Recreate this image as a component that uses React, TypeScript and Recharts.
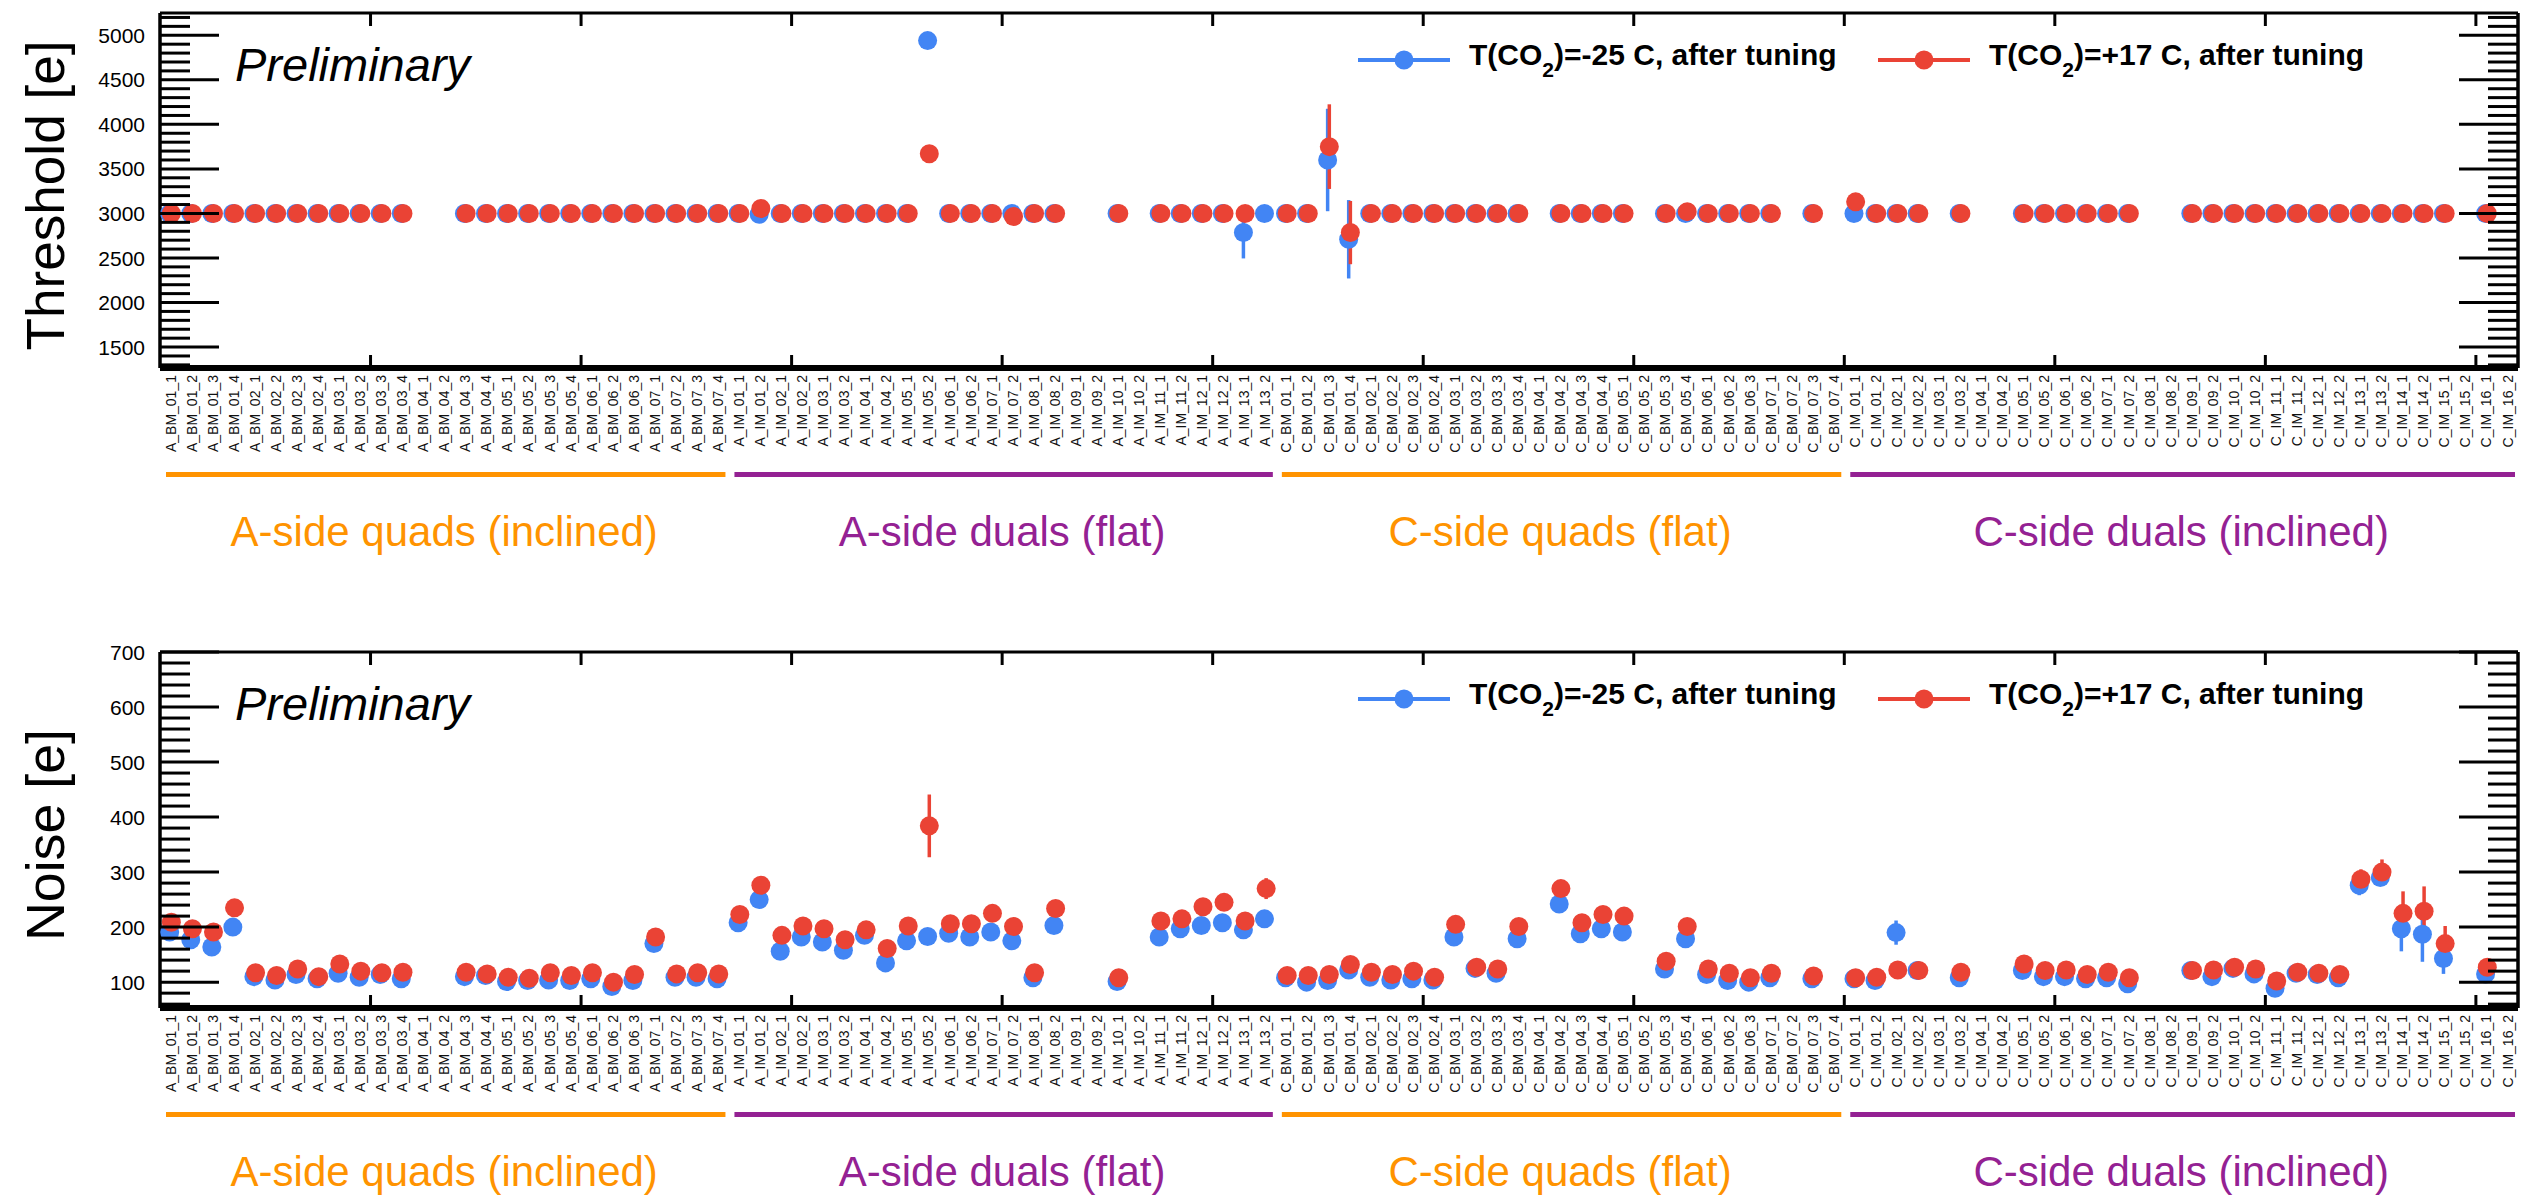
import React from "react";
import { ScatterChart, Scatter, XAxis, YAxis, ErrorBar } from "recharts";

// module names, one list per detector group
const aQuads = [
  "A_BM_01_1", "A_BM_01_2", "A_BM_01_3", "A_BM_01_4", "A_BM_02_1", "A_BM_02_2", "A_BM_02_3", "A_BM_02_4",
  "A_BM_03_1", "A_BM_03_2", "A_BM_03_3", "A_BM_03_4", "A_BM_04_1", "A_BM_04_2", "A_BM_04_3", "A_BM_04_4",
  "A_BM_05_1", "A_BM_05_2", "A_BM_05_3", "A_BM_05_4", "A_BM_06_1", "A_BM_06_2", "A_BM_06_3",
  "A_BM_07_1", "A_BM_07_2", "A_BM_07_3", "A_BM_07_4",
];
const aDuals = [
  "A_IM_01_1", "A_IM_01_2", "A_IM_02_1", "A_IM_02_2", "A_IM_03_1", "A_IM_03_2", "A_IM_04_1", "A_IM_04_2",
  "A_IM_05_1", "A_IM_05_2", "A_IM_06_1", "A_IM_06_2", "A_IM_07_1", "A_IM_07_2", "A_IM_08_1", "A_IM_08_2",
  "A_IM_09_1", "A_IM_09_2", "A_IM_10_1", "A_IM_10_2", "A_IM_11_1", "A_IM_11_2", "A_IM_12_1", "A_IM_12_2",
  "A_IM_13_1", "A_IM_13_2",
];
const cQuads = [
  "C_BM_01_1", "C_BM_01_2", "C_BM_01_3", "C_BM_01_4", "C_BM_02_1", "C_BM_02_2", "C_BM_02_3", "C_BM_02_4",
  "C_BM_03_1", "C_BM_03_2", "C_BM_03_3", "C_BM_03_4", "C_BM_04_1", "C_BM_04_2", "C_BM_04_3", "C_BM_04_4",
  "C_BM_05_1", "C_BM_05_2", "C_BM_05_3", "C_BM_05_4", "C_BM_06_1", "C_BM_06_2", "C_BM_06_3",
  "C_BM_07_1", "C_BM_07_2", "C_BM_07_3", "C_BM_07_4",
];
const cDuals = [
  "C_IM_01_1", "C_IM_01_2", "C_IM_02_1", "C_IM_02_2", "C_IM_03_1", "C_IM_03_2", "C_IM_04_1", "C_IM_04_2",
  "C_IM_05_1", "C_IM_05_2", "C_IM_06_1", "C_IM_06_2", "C_IM_07_1", "C_IM_07_2", "C_IM_08_1", "C_IM_08_2",
  "C_IM_09_1", "C_IM_09_2", "C_IM_10_1", "C_IM_10_2", "C_IM_11_1", "C_IM_11_2", "C_IM_12_1", "C_IM_12_2",
  "C_IM_13_1", "C_IM_13_2", "C_IM_14_1", "C_IM_14_2", "C_IM_15_1", "C_IM_15_2", "C_IM_16_1", "C_IM_16_2",
];

// threshold [e], T(CO2) = -25 C (cold) and +17 C (warm)
const thrColdAQ = [3000, 3000, 3000, 3000, 3000, 3000, 3000, 3000, 3000, 3000, 3000, 3000, null, null, 3000, 3000, 3000, 3000, 3000, 3000, 3000, 3000, 3000, 3000, 3000, 3000, 3000];
const thrWarmAQ = [3000, 3000, 3000, 3000, 3000, 3000, 3000, 3000, 3000, 3000, 3000, 3000, null, null, 3000, 3000, 3000, 3000, 3000, 3000, 3000, 3000, 3000, 3000, 3000, 3000, 3000];
const thrColdAD = [3000, 2990, 3000, 3000, 3000, 3000, 3000, 3000, 3000, 4940, 3000, 3000, 3000, 3000, 3000, 3000, null, null, 3000, null, 3000, 3000, 3000, 3000, 2785, 3000];
const thrWarmAD = [3000, 3055, 3000, 3000, 3000, 3000, 3000, 3000, 3000, 3670, 3000, 3000, 3000, 2965, 3000, 3000, null, null, 3000, null, 3000, 3000, 3000, 3000, 3000, null];
const thrColdCQ = [3000, 3000, 3600, 2710, 3000, 3000, 3000, 3000, 3000, 3000, 3000, 3000, null, 3000, 3000, 3000, 3000, null, 3000, 3000, 3000, 3000, 3000, 3000, null, 3000, null];
const thrWarmCQ = [3000, 3000, 3750, 2785, 3000, 3000, 3000, 3000, 3000, 3000, 3000, 3000, null, 3000, 3000, 3000, 3000, null, 3000, 3020, 3000, 3000, 3000, 3000, null, 3000, null];
const thrColdCD = [3000, 3000, 3000, 3000, null, 3000, null, null, 3000, 3000, 3000, 3000, 3000, 3000, null, null, 3000, 3000, 3000, 3000, 3000, 3000, 3000, 3000, 3000, 3000, 3000, 3000, 3000, null, 3000, null];
const thrWarmCD = [3130, 3000, 3000, 3000, null, 3000, null, null, 3000, 3000, 3000, 3000, 3000, 3000, null, null, 3000, 3000, 3000, 3000, 3000, 3000, 3000, 3000, 3000, 3000, 3000, 3000, 3000, null, 3000, null];

// noise [e]
const noiseColdAQ = [191, 177, 164, 200, 110, 104, 114, 106, 116, 109, 114, 106, null, null, 110, 112, 101, 103, 104, 103, 106, 92, 103, 170, 109, 109, 106];
const noiseWarmAQ = [209, 197, 191, 235, 117, 112, 124, 110, 133, 120, 117, 118, null, null, 118, 115, 109, 107, 117, 112, 117, 100, 114, 182, 115, 117, 115];
const noiseColdAD = [208, 250, 156, 182, 173, 158, 185, 135, 175, 183, 189, 182, 191, 175, 108, 203, null, null, 101, null, 182, 197, 203, 208, 195, 215];
const noiseWarmAD = [223, 276, 185, 202, 197, 177, 195, 161, 202, 384, 206, 206, 225, 201, 117, 234, null, null, 108, null, 211, 215, 237, 245, 211, 270];
const noiseColdCQ = [108, 100, 103, 122, 109, 104, 106, 104, 182, 125, 116, 179, null, 242, 188, 197, 191, null, 124, 179, 114, 103, 100, 108, null, 106, null];
const noiseWarmCQ = [112, 112, 114, 132, 118, 114, 120, 109, 205, 127, 124, 201, null, 270, 208, 223, 220, null, 138, 201, 124, 116, 108, 116, null, 111, null];
const noiseColdCD = [106, 103, 190, 121, null, 108, null, null, 121, 110, 110, 106, 108, 97, null, null, 121, 110, 125, 115, 89, 116, 114, 108, 276, 290, 197, 187, 143, null, 115, null];
const noiseWarmCD = [108, 109, 122, 121, null, 118, null, null, 133, 121, 122, 114, 118, 108, null, null, 121, 122, 127, 124, 102, 118, 116, 114, 287, 300, 225, 229, 170, null, 127, null];

// error bars (only where visible)
const thrColdErr: Record<string, number> = { A_IM_05_2: 25, A_IM_13_1: 290, C_BM_01_3: 575, C_BM_01_4: 440 };
const thrWarmErr: Record<string, number> = { A_IM_05_2: 70, C_BM_01_3: 475, C_BM_01_4: 355, C_IM_01_1: 40 };
const noiseColdErr: Record<string, number> = { A_IM_01_1: 5, A_IM_01_2: 10, A_IM_13_2: 10, C_IM_02_1: 22, C_IM_13_1: 18, C_IM_13_2: 15, C_IM_14_1: 41, C_IM_14_2: 50, C_IM_15_1: 28 };
const noiseWarmErr: Record<string, number> = { A_IM_01_2: 8, A_IM_05_2: 57, A_IM_12_2: 6, A_IM_13_2: 19, C_IM_13_1: 18, C_IM_13_2: 23, C_IM_14_1: 40, C_IM_14_2: 45, C_IM_15_1: 32 };

const thrTicks = [1300, 1400, 1500, 1600, 1700, 1800, 1900, 2000, 2100, 2200, 2300, 2400, 2500, 2600, 2700, 2800, 2900, 3000, 3100, 3200, 3300, 3400, 3500, 3600, 3700, 3800, 3900, 4000, 4100, 4200, 4300, 4400, 4500, 4600, 4700, 4800, 4900, 5000, 5100, 5200];
const noiseTicks = [60, 80, 100, 120, 140, 160, 180, 200, 220, 240, 260, 280, 300, 320, 340, 360, 380, 400, 420, 440, 460, 480, 500, 520, 540, 560, 580, 600, 620, 640, 660, 680, 700];
const xMajorTicks = [10, 20, 30, 40, 50, 60, 70, 80, 90, 100, 110];

const ORANGE = "#FF9300";
const PURPLE = "#942193";
const COLD = "#4285F4";
const WARM = "#EA4335";
const FONT = "'Liberation Sans', Arial, Helvetica, sans-serif";

const groups = [
  { label: "A-side quads (inclined)", names: aQuads, color: ORANGE },
  { label: "A-side duals (flat)", names: aDuals, color: PURPLE },
  { label: "C-side quads (flat)", names: cQuads, color: ORANGE },
  { label: "C-side duals (inclined)", names: cDuals, color: PURPLE },
];
const categories = groups.flatMap((g) => g.names);
const N = categories.length;

const W = 2528;
const PLOT_L = 160;
const PLOT_R = 2518;
const BIN = (PLOT_R - PLOT_L) / N;
const X_AXIS_H = 110;

const bottomTicks = [...categories.map((_, i) => i + 0.5), ...xMajorTicks].sort((a, b) => a - b);

function toPoints(values: (number | null)[], errs: Record<string, number>, shift: number) {
  const pts: { x: number; y: number; err: number; name: string }[] = [];
  values.forEach((v, i) => {
    if (v == null) return;
    pts.push({ x: i + 0.5 + shift, y: v, err: errs[categories[i]] ?? 0, name: categories[i] });
  });
  return pts;
}

const dot = (color: string) => (props: any) => {
  const { cx, cy } = props;
  if (cx == null || cy == null) return <g />;
  return <circle cx={cx} cy={cy} r={9.5} fill={color} />;
};
const noDot = () => <g />;

const BottomTick = (props: any) => {
  const { x, y, payload } = props;
  const v = payload.value;
  if (Number.isInteger(v)) {
    return <line x1={x} x2={x} y1={y} y2={y - 13} stroke="#000" strokeWidth={3} />;
  }
  const ty = y + 7;
  return (
    <text x={x} y={ty} transform={`rotate(-90, ${x}, ${ty})`} textAnchor="end" dy="0.36em"
      fontSize={14} fontFamily={FONT} fill="#111">
      {categories[Math.floor(v)]}
    </text>
  );
};

const TopTick = (props: any) => {
  const { x, y } = props;
  return <line x1={x} x2={x} y1={y} y2={y + 13} stroke="#000" strokeWidth={3} />;
};

const leftTick = (step: number) => (props: any) => {
  const { x, y, payload } = props;
  const v = payload.value;
  const major = v % step === 0;
  return (
    <g>
      <line x1={x} x2={x + (major ? 59 : 30)} y1={y} y2={y} stroke="#000" strokeWidth={3} />
      {major && (
        <text x={x - 15} y={y} dy="0.36em" textAnchor="end" fontSize={21} fontFamily={FONT} fill="#000">
          {v}
        </text>
      )}
    </g>
  );
};

const rightTick = (step: number) => (props: any) => {
  const { x, y, payload } = props;
  const major = payload.value % step === 0;
  return <line x1={x} x2={x - (major ? 59 : 30)} y1={y} y2={y} stroke="#000" strokeWidth={3} />;
};

function LegendItem({ x, y, color, text }: { x: number; y: number; color: string; text: string }) {
  return (
    <g>
      <line x1={x} x2={x + 92} y1={y} y2={y} stroke={color} strokeWidth={4} />
      <circle cx={x + 46} cy={y} r={9.5} fill={color} />
      <text x={x + 111} y={y + 5} fontSize={30} fontWeight="bold" fontFamily={FONT} fill="#000">
        T(CO
        <tspan dy={12} fontSize={21}>2</tspan>
        <tspan dy={-12}>{text}</tspan>
      </text>
    </g>
  );
}

type PanelProps = {
  top: number;
  height: number;
  plotTop: number;
  marginBottom: number;
  domain: [number, number];
  ticks: number[];
  step: number;
  title: string;
  titleLen: number;
  cold: (number | null)[];
  warm: (number | null)[];
  coldErr: Record<string, number>;
  warmErr: Record<string, number>;
};

function Panel(p: PanelProps) {
  const plotTop = p.plotTop;
  const plotBottom = p.height - p.marginBottom - X_AXIS_H;
  const midY = (plotTop + plotBottom) / 2 + 5;
  const coldPts = toPoints(p.cold, p.coldErr, -0.04);
  const warmPts = toPoints(p.warm, p.warmErr, 0.04);
  let start = 0;
  const spans = groups.map((g) => {
    const s = start;
    start += g.names.length;
    return { ...g, s, e: start };
  });
  // mirrored frame axes need a non-zero size or recharts skips them
  return (
    <div style={{ position: "absolute", left: 0, top: p.top, width: W, height: p.height }}>
      <ScatterChart width={W} height={p.height}
        margin={{ top: plotTop - 1, right: W - PLOT_R - 1, bottom: p.marginBottom, left: 0 }}>
        <XAxis xAxisId="b" type="number" dataKey="x" domain={[0, N]} allowDataOverflow
          ticks={bottomTicks} interval={0} tick={<BottomTick />} tickLine={false} tickSize={0} tickMargin={0}
          height={X_AXIS_H} axisLine={{ stroke: "#000", strokeWidth: 6 }} />
        <XAxis xAxisId="t" orientation="top" type="number" dataKey="x" domain={[0, N]} allowDataOverflow
          ticks={xMajorTicks} interval={0} tick={<TopTick />} tickLine={false} tickSize={0} tickMargin={0}
          height={1} axisLine={{ stroke: "#000", strokeWidth: 3 }} />
        <YAxis yAxisId="l" type="number" dataKey="y" domain={p.domain} allowDataOverflow
          ticks={p.ticks} interval={0} tick={leftTick(p.step)} tickLine={false} tickSize={0} tickMargin={0}
          width={PLOT_L} axisLine={{ stroke: "#000", strokeWidth: 3.5 }} />
        <YAxis yAxisId="r" orientation="right" type="number" dataKey="y" domain={p.domain} allowDataOverflow
          ticks={p.ticks} interval={0} tick={rightTick(p.step)} tickLine={false} tickSize={0} tickMargin={0}
          width={1} axisLine={{ stroke: "#000", strokeWidth: 3.5 }} />
        <Scatter xAxisId="t" yAxisId="r" data={coldPts} isAnimationActive={false} shape={noDot} legendType="none" />
        <Scatter name="T(CO2)=-25 C, after tuning" xAxisId="b" yAxisId="l" data={coldPts}
          isAnimationActive={false} shape={dot(COLD)}>
          <ErrorBar dataKey="err" direction="y" width={0} stroke={COLD} strokeWidth={3.5} isAnimationActive={false} />
        </Scatter>
        <Scatter name="T(CO2)=+17 C, after tuning" xAxisId="b" yAxisId="l" data={warmPts}
          isAnimationActive={false} shape={dot(WARM)}>
          <ErrorBar dataKey="err" direction="y" width={0} stroke={WARM} strokeWidth={3.5} isAnimationActive={false} />
        </Scatter>
      </ScatterChart>
      <svg width={W} height={p.height} style={{ position: "absolute", left: 0, top: 0, pointerEvents: "none" }}>
        <text x={45} y={midY} dy="0.36em" textAnchor="middle" fontSize={53} textLength={p.titleLen}
          lengthAdjust="spacingAndGlyphs" fontFamily={FONT} fill="#000" transform={`rotate(-90, 45, ${midY})`}>
          {p.title}
        </text>
        <text x={235} y={plotTop + 68} fontSize={47} fontStyle="italic" fontFamily={FONT} fill="#000">
          Preliminary
        </text>
        <LegendItem x={1358} y={plotTop + 47} color={COLD} text=")=-25 C, after tuning" />
        <LegendItem x={1878} y={plotTop + 47} color={WARM} text=")=+17 C, after tuning" />
        {spans.map((g) => (
          <g key={g.label}>
            <rect x={PLOT_L + g.s * BIN + 6} width={(g.e - g.s) * BIN - 9} y={plotBottom + 104} height={5} fill={g.color} />
            <text x={PLOT_L + ((g.s + g.e) / 2) * BIN} y={plotBottom + 178} textAnchor="middle" fontSize={42}
              fontFamily={FONT} fill={g.color}>
              {g.label}
            </text>
          </g>
        ))}
      </svg>
    </div>
  );
}

export default function App() {
  return (
    <div style={{ position: "absolute", left: 0, top: 0, width: W, height: 1195, overflow: "hidden", background: "#fff" }}>
      <Panel top={0} height={600} plotTop={13} marginBottom={122} domain={[1265, 5250]} ticks={thrTicks} step={500}
        title="Threshold [e]" titleLen={310}
        cold={[...thrColdAQ, ...thrColdAD, ...thrColdCQ, ...thrColdCD]}
        warm={[...thrWarmAQ, ...thrWarmAD, ...thrWarmCQ, ...thrWarmCD]}
        coldErr={thrColdErr} warmErr={thrWarmErr} />
      <Panel top={640} height={555} plotTop={12} marginBottom={77} domain={[53, 700]} ticks={noiseTicks} step={100}
        title="Noise [e]" titleLen={212}
        cold={[...noiseColdAQ, ...noiseColdAD, ...noiseColdCQ, ...noiseColdCD]}
        warm={[...noiseWarmAQ, ...noiseWarmAD, ...noiseWarmCQ, ...noiseWarmCD]}
        coldErr={noiseColdErr} warmErr={noiseWarmErr} />
    </div>
  );
}
